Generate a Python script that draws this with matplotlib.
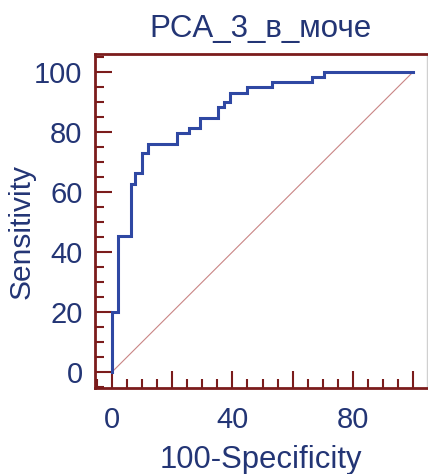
import matplotlib
matplotlib.use('Agg')
import matplotlib.pyplot as plt
from matplotlib.ticker import MultipleLocator, FixedLocator

# ROC operating points (100-Specificity, Sensitivity)
fpr = [0, 0, 2, 6.2, 7.6, 9.9, 12.1, 21.7, 25.7, 29.2, 35.1, 37.2, 39.2,
       45, 53, 66.5, 70.5, 100]
tpr = [0, 20, 45.5, 62.7, 66.2, 72.9, 76, 79.8, 81.2, 84.6, 88.2, 90.1,
       93.1, 94.9, 96.6, 98.2, 100, 100]
diag = [0, 100]

title = 'PCA_3_в_моче'
xlabel = '100-Specificity'
ylabel = 'Sensitivity'
xlabels = {0: '0', 40: '40', 80: '80'}

txt = '#233575'
axc = '#7b1c1c'

plt.rcParams['font.family'] = ['Liberation Sans', 'DejaVu Sans']

fig = plt.figure(figsize=(4.28, 4.74), dpi=100)
ax = fig.add_axes([95 / 428, 86 / 474, 332 / 428, 334 / 474])

ax.plot(diag, diag, color='#c98585', lw=0.8)
ax.plot(fpr, tpr, drawstyle='steps-post', color='#2f48a3', lw=2.2,
        solid_joinstyle='miter')

ax.set_xlim(-5.65, 104.65)
ax.set_ylim(-5.33, 106)

ax.yaxis.set_major_locator(MultipleLocator(20))
ax.yaxis.set_minor_locator(MultipleLocator(5))
ax.xaxis.set_major_locator(FixedLocator([0, 20, 40, 60, 80, 100]))
ax.xaxis.set_minor_locator(MultipleLocator(5))
ax.set_xticklabels([xlabels.get(v, '') for v in [0, 20, 40, 60, 80, 100]])

ax.tick_params(which='both', direction='in', color=axc, width=1.5,
               labelcolor=txt, labelsize=21)
ax.tick_params(which='major', length=12)
ax.tick_params(which='minor', length=6.5)
ax.tick_params(axis='y', pad=9)
ax.tick_params(axis='x', pad=13)

for s in ['left', 'bottom', 'top']:
    ax.spines[s].set_color(axc)
    ax.spines[s].set_linewidth(2)
ax.spines['right'].set_color('#d0d0d0')
ax.spines['right'].set_linewidth(1)

ax.set_title(title, color=txt, fontsize=22.5, pad=12)
ax.set_xlabel(xlabel, color=txt, fontsize=22.3, labelpad=8)
ax.set_ylabel(ylabel, color=txt, fontsize=21.5)
ax.yaxis.set_label_coords(-0.178, 0.47)

fig.savefig('out.png', dpi=100)
